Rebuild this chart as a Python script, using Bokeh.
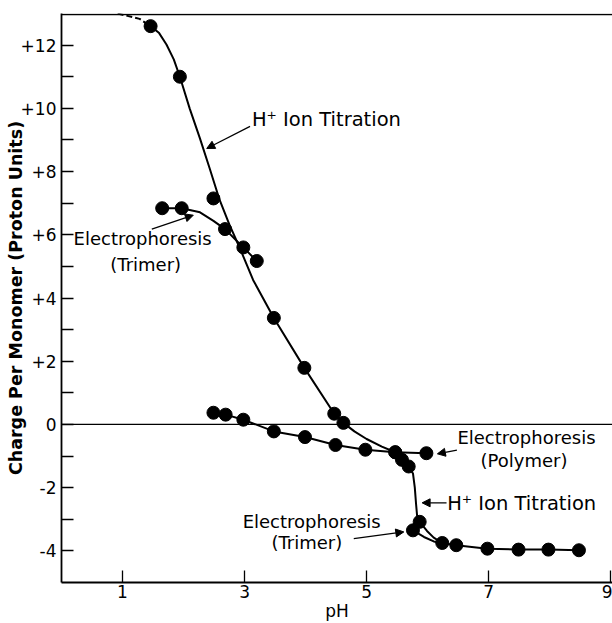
import math
from bokeh.plotting import figure
from bokeh.models import (FixedTicker, Span, Label, Arrow, NormalHead)
from bokeh.embed import file_html
from bokeh.resources import INLINE

# ---- data ----
titration_ph = [1.46, 1.94, 2.49, 3.48, 3.98, 4.47, 4.62, 5.47, 5.58, 5.69, 5.87, 6.24, 6.47, 6.98, 7.49, 7.98, 8.48]
titration_charge = [12.6, 11.0, 7.15, 3.37, 1.79, 0.34, 0.05, -0.88, -1.12, -1.33, -3.08, -3.75, -3.82, -3.93, -3.96, -3.96, -3.98]

titration_curve_ph = [1.46, 1.60, 1.72, 1.84, 1.94, 2.10, 2.27, 2.43, 2.59, 2.75, 2.92, 3.14, 3.48, 3.98, 4.47,
                      4.62, 4.80, 5.00, 5.25, 5.47, 5.58, 5.69, 5.76, 5.79, 5.81, 5.83, 5.87, 5.99, 6.10, 6.24,
                      6.47, 6.98, 7.49, 7.98, 8.48]
titration_curve_charge = [12.6, 12.38, 12.02, 11.55, 11.0, 10.0, 9.04, 8.09, 7.11, 6.33, 5.59, 4.57, 3.37, 1.79, 0.34,
                          0.05, -0.22, -0.46, -0.70, -0.88, -1.12, -1.33, -1.55, -2.0, -2.5, -2.94, -3.08, -3.37, -3.58, -3.75,
                          -3.82, -3.93, -3.96, -3.96, -3.98]
titration_dashed_ph = [0.92, 1.28, 1.46]
titration_dashed_charge = [13.0, 12.83, 12.6]

trimer_ph = [1.65, 1.97, 2.68, 2.98, 3.20, 5.76]
trimer_charge = [6.84, 6.84, 6.18, 5.60, 5.17, -3.35]
trimer_curve_ph = [1.65, 1.97, 2.27, 2.49, 2.68, 2.98, 3.20]
trimer_curve_charge = [6.84, 6.84, 6.71, 6.44, 6.18, 5.60, 5.17]
trimer_low_curve_ph = [5.76, 5.94, 6.10, 6.24]
trimer_low_curve_charge = [-3.35, -3.56, -3.70, -3.75]

polymer_ph = [2.49, 2.69, 2.98, 3.48, 3.99, 4.49, 4.98, 5.47, 5.98]
polymer_charge = [0.37, 0.31, 0.15, -0.22, -0.40, -0.65, -0.80, -0.88, -0.91]

x_ticks = [1, 3, 5, 7, 9]
y_ticks = [-4, -2, 0, 2, 4, 6, 8, 10, 12]
y_minor_ticks = [-3, -1, 1, 3, 5, 7, 9, 11]
y_tick_labels = ["-4", "-2", "0", "+2", "+4", "+6", "+8", "+10", "+12"]

FONT = "DejaVu Sans"

p = figure(width=612, height=623, x_range=(0, 9.03), y_range=(-5, 13.0),
           output_backend="svg", toolbar_location=None,
           min_border_left=61, min_border_right=0, min_border_top=13, min_border_bottom=41)
p.grid.visible = False
p.outline_line_color = None
p.background_fill_color = "white"
p.border_fill_color = "white"

for ax in (p.xaxis[0], p.yaxis[0]):
    ax.axis_line_width = 1.8
    ax.axis_line_color = "black"
    ax.major_tick_in = 12
    ax.major_tick_out = 0
    ax.major_tick_line_width = 1.3
    ax.major_tick_line_color = "black"
    ax.major_label_text_font = FONT
    ax.major_label_text_font_size = "17px"
    ax.major_label_text_color = "black"
    ax.axis_label_text_font = FONT
    ax.axis_label_text_color = "black"
    ax.axis_label_standoff = 0

p.xaxis.ticker = FixedTicker(ticks=x_ticks, minor_ticks=[])
p.xaxis.major_label_standoff = 2
p.xaxis.axis_label = "pH"
p.xaxis.axis_label_text_font_size = "17px"
p.xaxis.axis_label_text_font_style = "normal"

p.yaxis.ticker = FixedTicker(ticks=y_ticks, minor_ticks=y_minor_ticks)
p.yaxis.minor_tick_in = 12
p.yaxis.minor_tick_out = 0
p.yaxis.minor_tick_line_width = 1.3
p.yaxis.minor_tick_line_color = "black"
p.yaxis.major_label_standoff = 5
p.yaxis.major_label_overrides = {t: s for t, s in zip(y_ticks, y_tick_labels)}
p.yaxis.axis_label = "Charge Per Monomer (Proton Units)"
p.yaxis.axis_label_text_font_size = "17.5px"
p.yaxis.axis_label_text_font_style = "bold"
p.yaxis.axis_label_standoff = -8

# top border and zero line
p.add_layout(Span(location=12.97, dimension="width", line_color="black", line_width=1.5))
p.add_layout(Span(location=0, dimension="width", line_color="black", line_width=1.3))

# curves
p.line(titration_curve_ph, titration_curve_charge, line_color="black", line_width=2)
p.line(titration_dashed_ph, titration_dashed_charge, line_color="black", line_width=2, line_dash="6 3")
p.line(trimer_curve_ph, trimer_curve_charge, line_color="black", line_width=2)
p.line(trimer_low_curve_ph, trimer_low_curve_charge, line_color="black", line_width=2)
p.line(polymer_ph, polymer_charge, line_color="black", line_width=2)

# points
p.scatter(titration_ph, titration_charge, size=13, color="black")
p.scatter(trimer_ph, trimer_charge, size=13, color="black")
p.scatter(polymer_ph, polymer_charge, size=13, color="black")

# annotations
def lab(x, y, text, align="left", size="18px"):
    p.add_layout(Label(x=x, y=y, text=text, text_font=FONT, text_font_size=size,
                       text_align=align, text_baseline="middle", text_color="black"))

def arr(x0, y0, x1, y1):
    p.add_layout(Arrow(x_start=x0, y_start=y0, x_end=x1, y_end=y1, line_width=1.2, line_color="black",
                       end=NormalHead(size=8, fill_color="black", line_color="black")))

lab(3.12, 9.65, "H\u207a Ion Titration", size="19.5px")
arr(3.09, 9.43, 2.38, 8.73)

lab(1.33, 5.89, "Electrophoresis", align="center")
lab(1.38, 5.06, "(Trimer)", align="center")
arr(1.48, 6.18, 2.16, 6.62)

lab(7.62, -0.40, "Electrophoresis", align="center")
lab(7.58, -1.13, "(Polymer)", align="center")
arr(6.48, -0.81, 6.16, -0.93)

lab(6.32, -2.50, "H\u207a Ion Titration", size="19.5px")
arr(6.31, -2.48, 5.91, -2.48)

lab(4.10, -3.06, "Electrophoresis", align="center")
lab(4.02, -3.74, "(Trimer)", align="center")
arr(4.79, -3.61, 5.61, -3.40)

open("out.html", "w").write(file_html(p, INLINE))
